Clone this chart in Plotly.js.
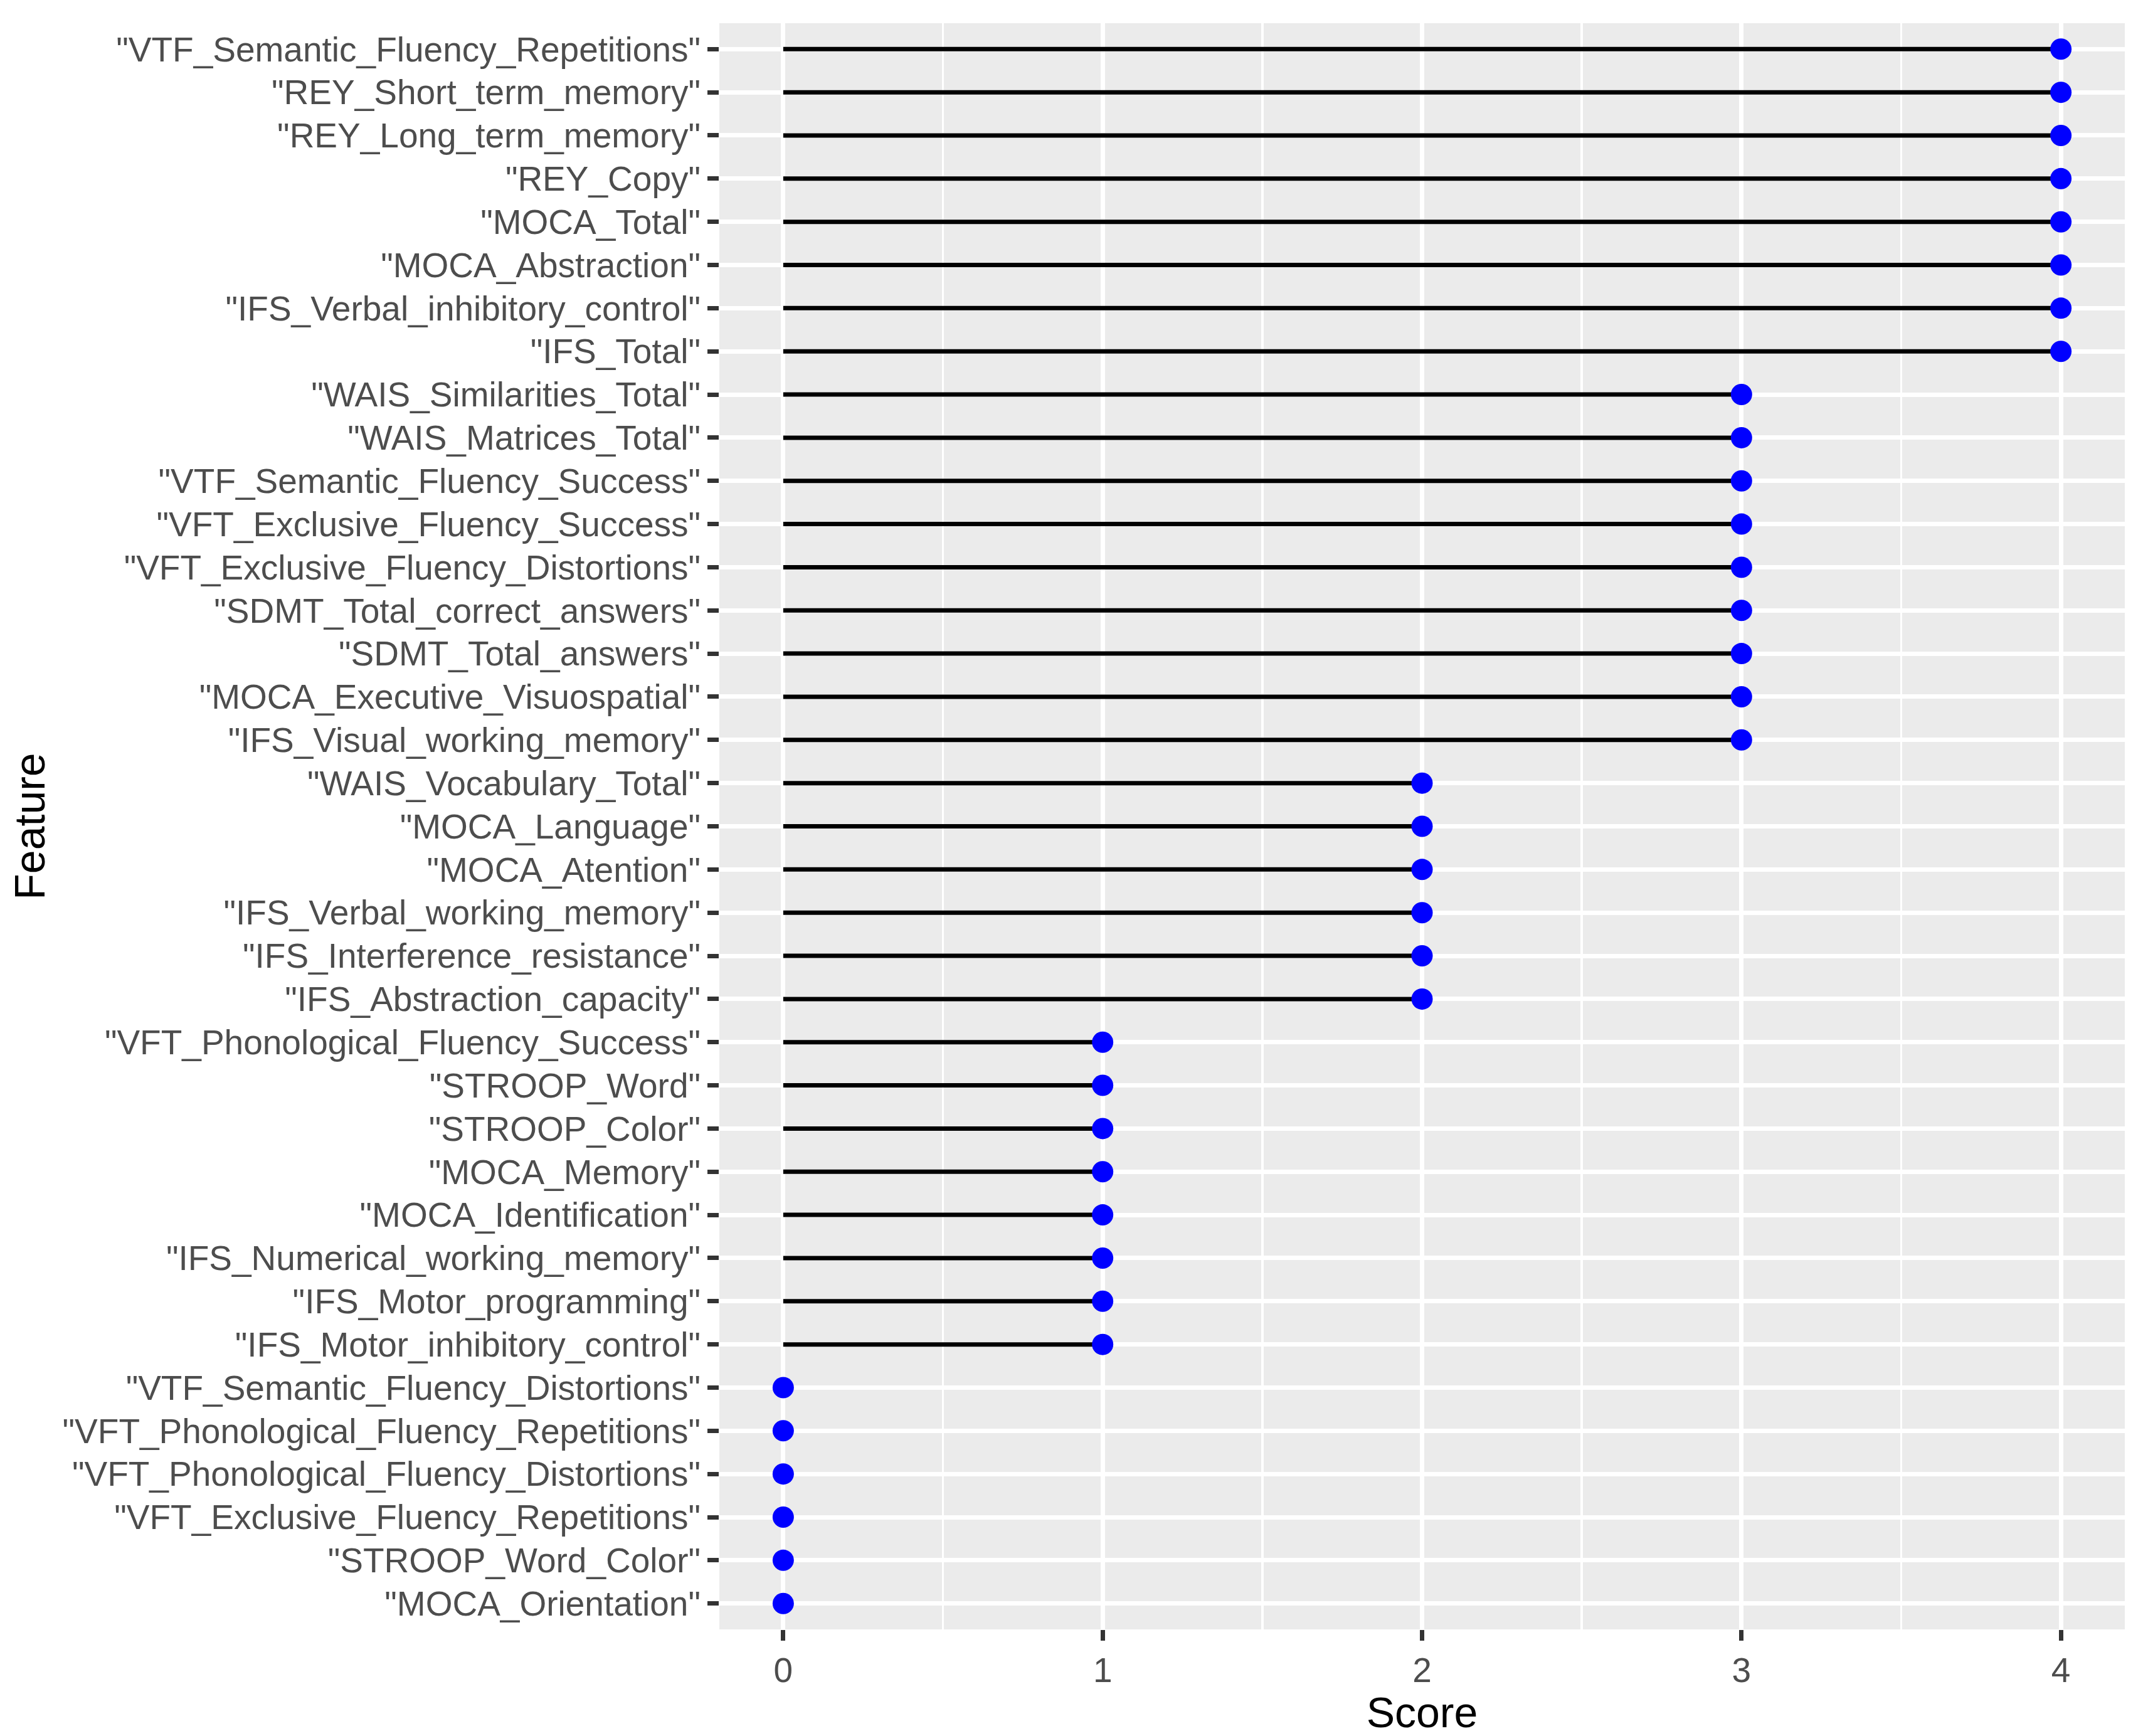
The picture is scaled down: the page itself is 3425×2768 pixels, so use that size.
<!DOCTYPE html>
<html>
<head>
<meta charset="utf-8">
<script src="https://cdn.plot.ly/plotly-3.0.1.min.js"></script>
<style>
  html, body { margin: 0; padding: 0; background: #ffffff; }
  #chart { width: 3425px; height: 2768px; }
</style>
</head>
<body>
<div id="chart"></div>
<script>
// Features, listed top to bottom as in the chart
const features = [
  '"VTF_Semantic_Fluency_Repetitions"',
  '"REY_Short_term_memory"',
  '"REY_Long_term_memory"',
  '"REY_Copy"',
  '"MOCA_Total"',
  '"MOCA_Abstraction"',
  '"IFS_Verbal_inhibitory_control"',
  '"IFS_Total"',
  '"WAIS_Similarities_Total"',
  '"WAIS_Matrices_Total"',
  '"VTF_Semantic_Fluency_Success"',
  '"VFT_Exclusive_Fluency_Success"',
  '"VFT_Exclusive_Fluency_Distortions"',
  '"SDMT_Total_correct_answers"',
  '"SDMT_Total_answers"',
  '"MOCA_Executive_Visuospatial"',
  '"IFS_Visual_working_memory"',
  '"WAIS_Vocabulary_Total"',
  '"MOCA_Language"',
  '"MOCA_Atention"',
  '"IFS_Verbal_working_memory"',
  '"IFS_Interference_resistance"',
  '"IFS_Abstraction_capacity"',
  '"VFT_Phonological_Fluency_Success"',
  '"STROOP_Word"',
  '"STROOP_Color"',
  '"MOCA_Memory"',
  '"MOCA_Identification"',
  '"IFS_Numerical_working_memory"',
  '"IFS_Motor_programming"',
  '"IFS_Motor_inhibitory_control"',
  '"VTF_Semantic_Fluency_Distortions"',
  '"VFT_Phonological_Fluency_Repetitions"',
  '"VFT_Phonological_Fluency_Distortions"',
  '"VFT_Exclusive_Fluency_Repetitions"',
  '"STROOP_Word_Color"',
  '"MOCA_Orientation"'
];

const scores = [
  4, 4, 4, 4, 4, 4, 4, 4,
  3, 3, 3, 3, 3, 3, 3, 3, 3,
  2, 2, 2, 2, 2, 2,
  1, 1, 1, 1, 1, 1, 1, 1,
  0, 0, 0, 0, 0, 0
];

const xTicks = [0, 1, 2, 3, 4];
const xTickLabels = ['0', '1', '2', '3', '4'];

// Build lollipop stems from the data arrays
const segX = [], segY = [];
features.forEach((f, i) => {
  segX.push(0, scores[i], null);
  segY.push(f, f, null);
});

const FONT = 'Liberation Sans, Arial, Helvetica, sans-serif';

const traces = [
  {
    type: 'scatter',
    mode: 'lines',
    x: segX,
    y: segY,
    line: { color: '#000000', width: 7 },
    hoverinfo: 'skip',
    showlegend: false
  },
  {
    type: 'scatter',
    mode: 'markers',
    x: scores,
    y: features,
    marker: { color: '#0000FF', size: 34, line: { width: 0 } },
    showlegend: false
  }
];

const layout = {
  width: 3425,
  height: 2768,
  paper_bgcolor: '#FFFFFF',
  plot_bgcolor: '#EBEBEB',
  margin: { l: 1147, r: 37, t: 37, b: 170, pad: 0 },
  font: { family: FONT, color: '#4D4D4D' },
  showlegend: false,
  xaxis: {
    range: [-0.2, 4.2],
    tickmode: 'array',
    tickvals: xTicks,
    ticktext: xTickLabels,
    ticks: 'outside',
    ticklen: 17,
    tickwidth: 7,
    tickcolor: '#333333',
    tickfont: { family: FONT, size: 55, color: '#4D4D4D' },
    showgrid: true,
    gridcolor: '#FFFFFF',
    gridwidth: 7,
    zeroline: false,
    showline: false,
    automargin: false,
    minor: {
      tick0: 0,
      dtick: 0.5,
      showgrid: true,
      gridcolor: '#FFFFFF',
      gridwidth: 3.5,
      ticks: ''
    },
    title: {
      text: 'Score',
      font: { family: FONT, size: 68, color: '#000000' },
      standoff: 0
    }
  },
  yaxis: {
    type: 'category',
    categoryorder: 'array',
    categoryarray: features,
    range: [36.6, -0.6],
    ticks: 'outside',
    ticklen: 18,
    tickwidth: 7,
    tickcolor: '#333333',
    tickfont: { family: FONT, size: 55, color: '#4D4D4D' },
    showgrid: true,
    gridcolor: '#FFFFFF',
    gridwidth: 7,
    zeroline: false,
    showline: false,
    automargin: false,
    title: {
      text: 'Feature',
      font: { family: FONT, size: 68, color: '#000000' },
      standoff: 5
    }
  }
};

Plotly.newPlot('chart', traces, layout, { displayModeBar: false, staticPlot: true });
</script>
</body>
</html>
